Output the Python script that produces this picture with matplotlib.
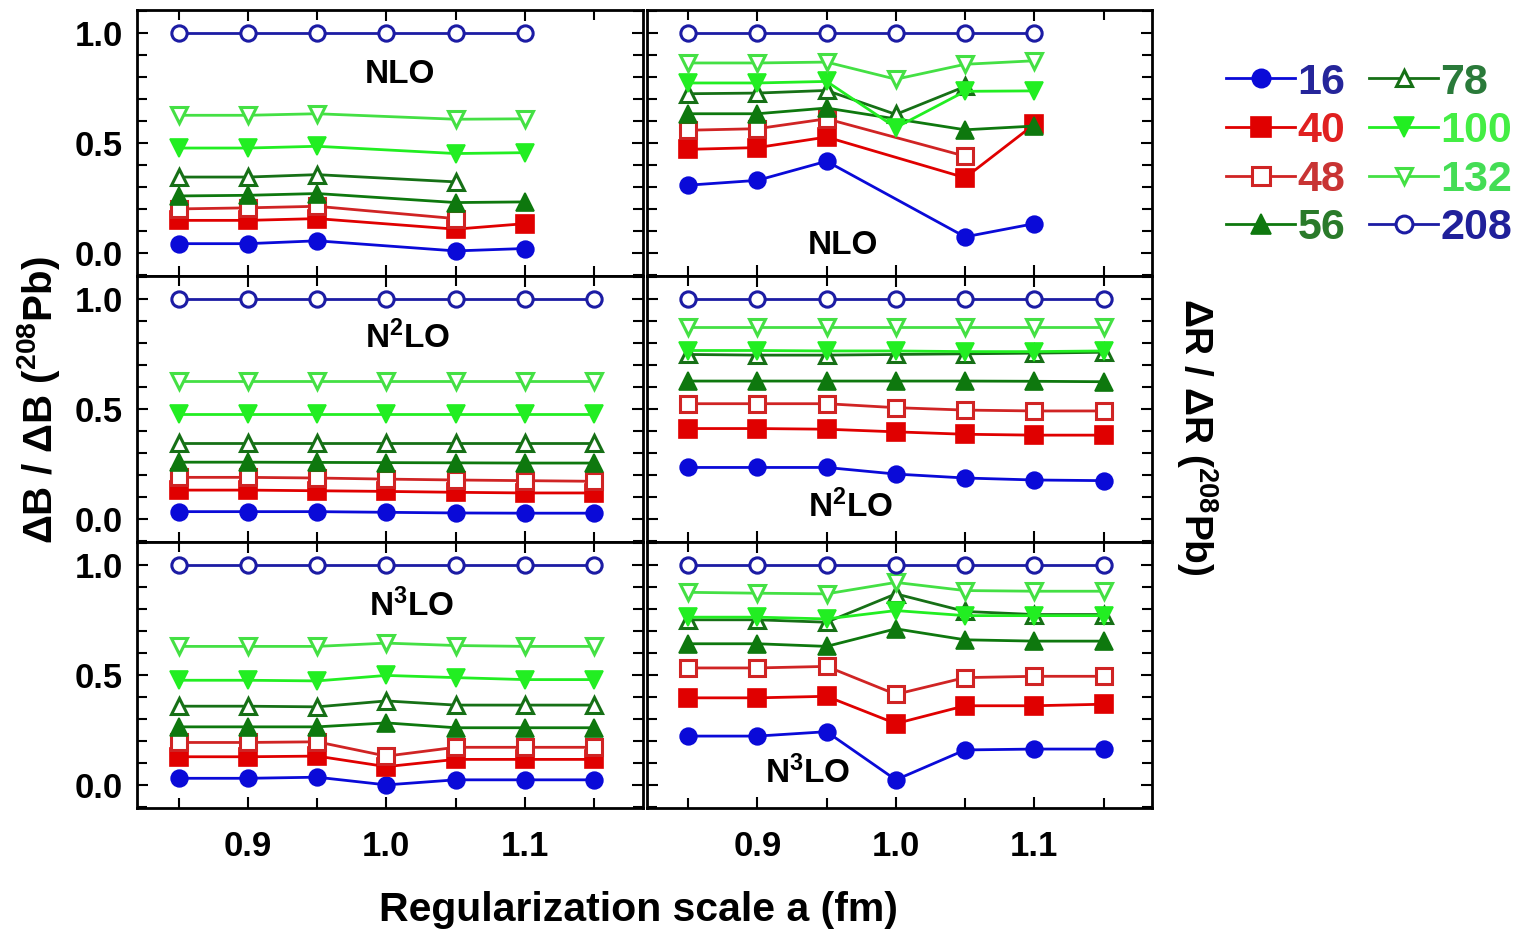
import numpy as np
import matplotlib
matplotlib.use("Agg")
import matplotlib.pyplot as plt
from matplotlib.ticker import MultipleLocator, FormatStrFormatter

plt.rcParams['font.family'] = ['Liberation Sans', 'DejaVu Sans']
plt.rcParams['font.weight'] = 'bold'
plt.rcParams['mathtext.fontset'] = 'custom'
plt.rcParams['mathtext.rm'] = 'Liberation Sans:bold'
plt.rcParams['mathtext.it'] = 'Liberation Sans:bold'
plt.rcParams['mathtext.bf'] = 'Liberation Sans:bold'
plt.rcParams['mathtext.default'] = 'rm'

nan = np.nan

# regularization scale a (fm)
a_fm = [0.85, 0.90, 0.95, 1.00, 1.05, 1.10, 1.15]
nuclei = ['16', '40', '48', '56', '78', '100', '132', '208']

# rows: 16, 40, 48, 56, 78, 100, 132, 208
dB_nlo = [
    [0.042, 0.042, 0.055, nan, 0.009, 0.020, nan],
    [0.148, 0.148, 0.156, nan, 0.108, 0.133, nan],
    [0.200, 0.205, 0.212, nan, 0.156, nan, nan],
    [0.259, 0.262, 0.270, nan, 0.229, 0.232, nan],
    [0.345, 0.345, 0.356, nan, 0.323, nan, nan],
    [0.477, 0.477, 0.485, nan, 0.452, 0.456, nan],
    [0.626, 0.626, 0.633, nan, 0.608, 0.610, nan],
    [1.0, 1.0, 1.0, 1.0, 1.0, 1.0, nan],
]
dR_nlo = [
    [0.308, 0.330, 0.417, nan, 0.073, 0.133, nan],
    [0.471, 0.479, 0.527, nan, 0.342, 0.585, nan],
    [0.558, 0.565, 0.610, nan, 0.440, nan, nan],
    [0.633, 0.633, 0.659, nan, 0.560, 0.577, nan],
    [0.724, 0.727, 0.739, 0.630, 0.757, nan, nan],
    [0.773, 0.773, 0.780, 0.570, 0.735, 0.737, nan],
    [0.864, 0.864, 0.868, 0.790, 0.858, 0.874, nan],
    [1.0, 1.0, 1.0, 1.0, 1.0, 1.0, nan],
]
dB_n2lo = [
    [0.033, 0.033, 0.033, 0.030, 0.027, 0.026, 0.026],
    [0.131, 0.131, 0.128, 0.125, 0.121, 0.118, 0.118],
    [0.189, 0.189, 0.186, 0.181, 0.177, 0.174, 0.171],
    [0.258, 0.258, 0.257, 0.256, 0.255, 0.254, 0.254],
    [0.347, 0.347, 0.347, 0.347, 0.347, 0.347, 0.347],
    [0.476, 0.476, 0.476, 0.476, 0.476, 0.476, 0.476],
    [0.627, 0.627, 0.627, 0.627, 0.627, 0.627, 0.627],
    [1.0, 1.0, 1.0, 1.0, 1.0, 1.0, 1.0],
]
dR_n2lo = [
    [0.234, 0.234, 0.234, 0.204, 0.186, 0.177, 0.174],
    [0.411, 0.411, 0.408, 0.396, 0.385, 0.381, 0.381],
    [0.524, 0.524, 0.524, 0.506, 0.495, 0.491, 0.491],
    [0.627, 0.627, 0.627, 0.627, 0.627, 0.626, 0.624],
    [0.748, 0.745, 0.745, 0.748, 0.751, 0.754, 0.758],
    [0.766, 0.766, 0.764, 0.764, 0.761, 0.761, 0.764],
    [0.872, 0.872, 0.872, 0.872, 0.872, 0.872, 0.872],
    [1.0, 1.0, 1.0, 1.0, 1.0, 1.0, 1.0],
]
dB_n3lo = [
    [0.030, 0.030, 0.035, 0.000, 0.023, 0.023, 0.023],
    [0.128, 0.128, 0.131, 0.083, 0.116, 0.116, 0.116],
    [0.193, 0.193, 0.196, 0.131, 0.171, 0.171, 0.171],
    [0.264, 0.264, 0.264, 0.282, 0.260, 0.260, 0.260],
    [0.358, 0.358, 0.355, 0.382, 0.363, 0.363, 0.363],
    [0.476, 0.476, 0.473, 0.498, 0.488, 0.479, 0.479],
    [0.630, 0.630, 0.630, 0.645, 0.634, 0.630, 0.630],
    [1.0, 1.0, 1.0, 1.0, 1.0, 1.0, 1.0],
]
dR_n3lo = [
    [0.222, 0.222, 0.242, 0.023, 0.159, 0.163, 0.163],
    [0.396, 0.396, 0.403, 0.279, 0.360, 0.360, 0.367],
    [0.532, 0.532, 0.539, 0.412, 0.488, 0.494, 0.494],
    [0.642, 0.642, 0.630, 0.710, 0.660, 0.654, 0.654],
    [0.751, 0.751, 0.740, 0.869, 0.789, 0.775, 0.775],
    [0.763, 0.763, 0.755, 0.793, 0.770, 0.770, 0.770],
    [0.876, 0.872, 0.869, 0.921, 0.884, 0.881, 0.881],
    [1.0, 1.0, 1.0, 1.0, 1.0, 1.0, 1.0],
]

# marker style per nucleus
markers = ['o', 's', 's', '^', '^', 'v', 'v', 'o']
colors = ['#0a0ad8', '#e00000', '#d02424', '#0e780e', '#167016', '#22ee22', '#44e044', '#1c1ca4']
filled = [True, True, False, True, False, True, False, False]
msizes = [12, 13, 12, 13, 11, 13, 11, 11]
text_colors = ['#25259a', '#e02020', '#c83434', '#2a7a2a', '#2a7a3a', '#44ee44', '#44dd55', '#20209a']

panels = [
    (dB_nlo, 'NLO', 1.010, 0.81),
    (dR_nlo, 'NLO', 0.962, 0.035),
    (dB_n2lo, 'N$^2$LO', 1.015, 0.825),
    (dR_n2lo, 'N$^2$LO', 0.967, 0.054),
    (dB_n3lo, 'N$^3$LO', 1.018, 0.815),
    (dR_n3lo, 'N$^3$LO', 0.936, 0.054),
]

fig = plt.figure(figsize=(15.35, 9.33), dpi=100)
gs = fig.add_gridspec(3, 2, left=0.0893, right=0.7505, top=0.9893, bottom=0.134,
                      hspace=0, wspace=0.008)

x = np.array(a_fm)
axes = []
for k, (data, name, tx, ty) in enumerate(panels):
    r, c = divmod(k, 2)
    ax = fig.add_subplot(gs[r, c])
    axes.append(ax)
    for i, lab in enumerate(nuclei):
        y = np.array(data[i], dtype=float)
        m = ~np.isnan(y)
        ax.plot(x[m], y[m], color=colors[i], lw=2.0, marker=markers[i], ms=msizes[i],
                mfc=colors[i] if filled[i] else 'white', mec=colors[i],
                mew=1.2 if filled[i] else 2.2, label=lab)
    ax.text(tx, ty, name, ha='center', va='center', fontsize=24, fontweight='bold')
    ax.set_xlim(0.82, 1.185)
    ax.set_ylim(-0.105, 1.105)
    ax.xaxis.set_major_locator(MultipleLocator(0.1))
    ax.xaxis.set_minor_locator(MultipleLocator(0.05))
    ax.yaxis.set_major_locator(MultipleLocator(0.5))
    ax.yaxis.set_minor_locator(MultipleLocator(0.1))
    ax.yaxis.set_major_formatter(FormatStrFormatter('%.1f'))
    ax.xaxis.set_major_formatter(FormatStrFormatter('%.1f'))
    ax.tick_params(which='both', direction='in', top=True, right=True, width=1.5)
    ax.tick_params(which='major', length=8, labelsize=25)
    ax.tick_params(axis='y', which='major', pad=10)
    ax.tick_params(axis='x', which='major', pad=16)
    ax.tick_params(which='minor', length=7)
    if c == 1:
        ax.tick_params(labelleft=False)
    if r < 2:
        ax.tick_params(labelbottom=False)
    for sp in ax.spines.values():
        sp.set_linewidth(2)

fig.text(0.416, 0.025, 'Regularization scale a (fm)', ha='center', va='center',
         fontsize=29.5, fontweight='bold')
fig.text(0.025, 0.571, 'ΔB / ΔB ($^{208}$Pb)', ha='center', va='center',
         rotation=90, fontsize=29, fontweight='bold')
fig.text(0.780, 0.532, 'ΔR / ΔR ($^{208}$Pb)', ha='center', va='center',
         rotation=270, fontsize=28, fontweight='bold')

handles, labels = axes[0].get_legend_handles_labels()
leg = fig.legend(handles, labels, ncol=2, loc='upper left', bbox_to_anchor=(0.799, 0.933),
                 frameon=False, fontsize=31, handlelength=1.6, handletextpad=0.05,
                 columnspacing=0.55, labelspacing=0.2, borderpad=0, borderaxespad=0,
                 markerscale=1.1)
for t, col in zip(leg.get_texts(), text_colors):
    t.set_color(col)

fig.savefig('out.png', dpi=100)
